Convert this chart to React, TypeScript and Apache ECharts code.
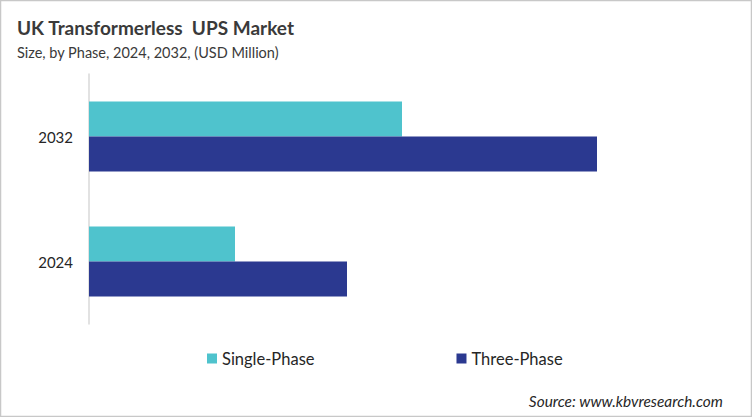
import { useRef, useEffect } from 'react';
import * as echarts from 'echarts';

const years = ['2024', '2032'];
const singlePhase = [14.6, 31.3];
const threePhase = [25.8, 50.8];
const seriesNames = ['Single-Phase', 'Three-Phase'];

const FONT = 'Lato, "Open Sans", sans-serif';

export default function App() {
  const containerRef = useRef<HTMLDivElement>(null);

  useEffect(() => {
    if (!containerRef.current) return;
    const chart = echarts.init(containerRef.current, undefined, { renderer: 'svg' });

    chart.setOption({
      animation: false,
      backgroundColor: '#ffffff',
      textStyle: { fontFamily: FONT },
      title: [
        {
          text: 'UK Transformerless  UPS Market',
          left: 12,
          top: 13,
          textStyle: { fontSize: 19, fontWeight: 'bold', color: '#3a3a3a', fontFamily: FONT },
        },
        {
          text: 'Size, by Phase, 2024, 2032, (USD Million)',
          left: 12,
          top: 40,
          textStyle: { fontSize: 14.5, fontWeight: 'normal', color: '#3a3a3a', fontFamily: FONT },
        },
        {
          text: 'Source: www.kbvresearch.com',
          right: 24,
          top: 388,
          textStyle: { fontSize: 15.4, fontWeight: 'normal', fontStyle: 'italic', color: '#262626', fontFamily: FONT },
        },
      ],
      legend: {
        data: seriesNames,
        left: 202,
        top: 345,
        itemWidth: 10,
        itemHeight: 10,
        itemGap: 142,
        icon: 'rect',
        textStyle: { fontSize: 16.5, color: '#262626', fontFamily: FONT },
      },
      grid: { left: 89, right: 63, top: 74, bottom: 93 },
      xAxis: {
        type: 'value',
        min: 0,
        max: 60,
        show: false,
      },
      yAxis: {
        type: 'category',
        data: years,
        axisLine: { show: true, lineStyle: { color: '#d9d9d9', width: 1.5 } },
        axisTick: { show: false },
        axisLabel: { fontSize: 15, color: '#262626', margin: 16, fontFamily: FONT },
      },
      series: [
        {
          name: 'Single-Phase',
          type: 'bar',
          data: singlePhase,
          barWidth: 35,
          barGap: '0%',
          itemStyle: { color: '#4fc3cd' },
        },
        {
          name: 'Three-Phase',
          type: 'bar',
          data: threePhase,
          barWidth: 35,
          barGap: '0%',
          itemStyle: { color: '#2b3990' },
        },
      ],
      graphic: [
        {
          type: 'rect',
          shape: { x: 0.5, y: 0.5, width: 751, height: 416 },
          style: { fill: 'none', stroke: '#c8c8c8', lineWidth: 1.5 },
          silent: true,
        },
      ],
    });

    return () => {
      chart.dispose();
    };
  }, []);

  return (
    <div
      ref={containerRef}
      style={{ position: 'fixed', left: 0, top: 0, width: 752, height: 417 }}
    />
  );
}
